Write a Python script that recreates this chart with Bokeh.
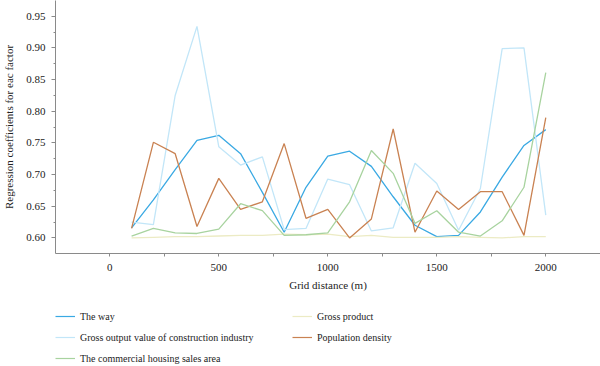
from bokeh.plotting import figure
from bokeh.layouts import column
from bokeh.models import Legend, LegendItem, FixedTicker, PrintfTickFormatter, Range1d
from bokeh.embed import file_html
from bokeh.resources import INLINE

distance = [100, 200, 300, 400, 500, 600, 700, 800, 900, 1000,
            1100, 1200, 1300, 1400, 1500, 1600, 1700, 1800, 1900, 2000]

the_way = [0.616, 0.660, 0.708, 0.754, 0.762, 0.733, 0.672, 0.609, 0.680, 0.729,
           0.737, 0.713, 0.665, 0.620, 0.602, 0.604, 0.641, 0.696, 0.746, 0.771]
gross_product = [0.600, 0.601, 0.602, 0.602, 0.603, 0.604, 0.604, 0.606, 0.605, 0.606,
                 0.602, 0.604, 0.601, 0.601, 0.601, 0.602, 0.601, 0.600, 0.602, 0.602]
construction = [0.625, 0.621, 0.825, 0.934, 0.744, 0.715, 0.728, 0.613, 0.615, 0.693,
                0.684, 0.611, 0.616, 0.718, 0.686, 0.612, 0.678, 0.899, 0.900, 0.636]
population = [0.615, 0.751, 0.733, 0.618, 0.694, 0.645, 0.657, 0.749, 0.631, 0.645,
              0.600, 0.630, 0.772, 0.609, 0.674, 0.645, 0.673, 0.673, 0.604, 0.790]
housing = [0.603, 0.615, 0.608, 0.607, 0.614, 0.654, 0.643, 0.604, 0.605, 0.608,
           0.657, 0.738, 0.702, 0.623, 0.643, 0.609, 0.603, 0.627, 0.680, 0.861]

series_names = ["The way", "Gross product", "Gross output value of construction industry",
                "Population density", "The commercial housing sales area"]
series_values = [the_way, gross_product, construction, population, housing]
series_colors = ["#3aa9e3", "#ecebc4", "#c2e6f8", "#c98252", "#a8d39f"]

x_major = [0, 500, 1000, 1500, 2000]
x_minor = [-250, 250, 750, 1250, 1750, 2250]
y_major = [0.60, 0.65, 0.70, 0.75, 0.80, 0.85, 0.90, 0.95]
y_minor = [0.575, 0.625, 0.675, 0.725, 0.775, 0.825, 0.875, 0.925, 0.975]

FONT = "Liberation Serif"

p = figure(width=600, height=300, output_backend="svg", toolbar_location=None,
           x_range=Range1d(-249, 2251), y_range=Range1d(0.5754, 0.9749),
           min_border_left=54, min_border_top=0, min_border_right=0, min_border_bottom=47,
           x_axis_label="Grid distance (m)",
           y_axis_label="Regression coefficients for eac factor")
p.outline_line_color = None
p.grid.visible = False
p.background_fill_color = "white"
p.border_fill_color = "white"

for vals, col in zip(series_values, series_colors):
    p.line(distance, vals, line_color=col, line_width=1.3)

for ax in (p.xaxis[0], p.yaxis[0]):
    ax.axis_line_color = "#8a8a8a"
    ax.major_tick_line_color = "#8a8a8a"
    ax.minor_tick_line_color = "#8a8a8a"
    ax.major_tick_in = 0
    ax.minor_tick_in = 0
    ax.major_tick_out = 4
    ax.minor_tick_out = 2
    ax.major_label_text_font = FONT
    ax.major_label_text_font_size = "11px"
    ax.major_label_text_color = "#222222"
    ax.axis_label_text_font = FONT
    ax.axis_label_text_font_size = "11px"
    ax.axis_label_text_font_style = "normal"
    ax.axis_label_text_color = "#222222"

p.xaxis[0].ticker = FixedTicker(ticks=x_major, minor_ticks=x_minor)
p.yaxis[0].ticker = FixedTicker(ticks=y_major, minor_ticks=y_minor)
p.yaxis[0].formatter = PrintfTickFormatter(format="%.2f")
p.xaxis[0].major_tick_out = 3
p.xaxis[0].minor_tick_out = 3
p.xaxis[0].major_label_standoff = 7
p.xaxis[0].axis_label_standoff = 5
p.yaxis[0].major_label_standoff = 6
p.yaxis[0].axis_label_standoff = 8

# legend panel below the chart (its key lines lie outside its visible ranges)
q = figure(width=600, height=66, output_backend="svg", toolbar_location=None,
           x_range=Range1d(0, 1), y_range=Range1d(0, 1),
           min_border_left=54, min_border_top=0, min_border_right=0, min_border_bottom=0)
q.axis.visible = False
q.grid.visible = False
q.outline_line_color = None
q.background_fill_color = "white"
q.border_fill_color = "white"

keys = []
for vals, col in zip(series_values, series_colors):
    keys.append(q.line(distance, vals, line_color=col, line_width=1.2))

order = [0, 2, 4, 1, 3]
items = [LegendItem(label=series_names[i], renderers=[keys[i]]) for i in order]
legend = Legend(items=items, nrows=3, location=(0, -2),
                label_text_font=FONT, label_text_font_size="10px", label_text_color="#222222",
                glyph_width=20, glyph_height=20, label_height=20, label_width=211,
                label_standoff=5, spacing=1, padding=0, margin=0,
                border_line_color=None, background_fill_alpha=0)
q.add_layout(legend, "center")

layout = column(p, q, spacing=0)
open("out.html", "w").write(file_html(layout, INLINE))
